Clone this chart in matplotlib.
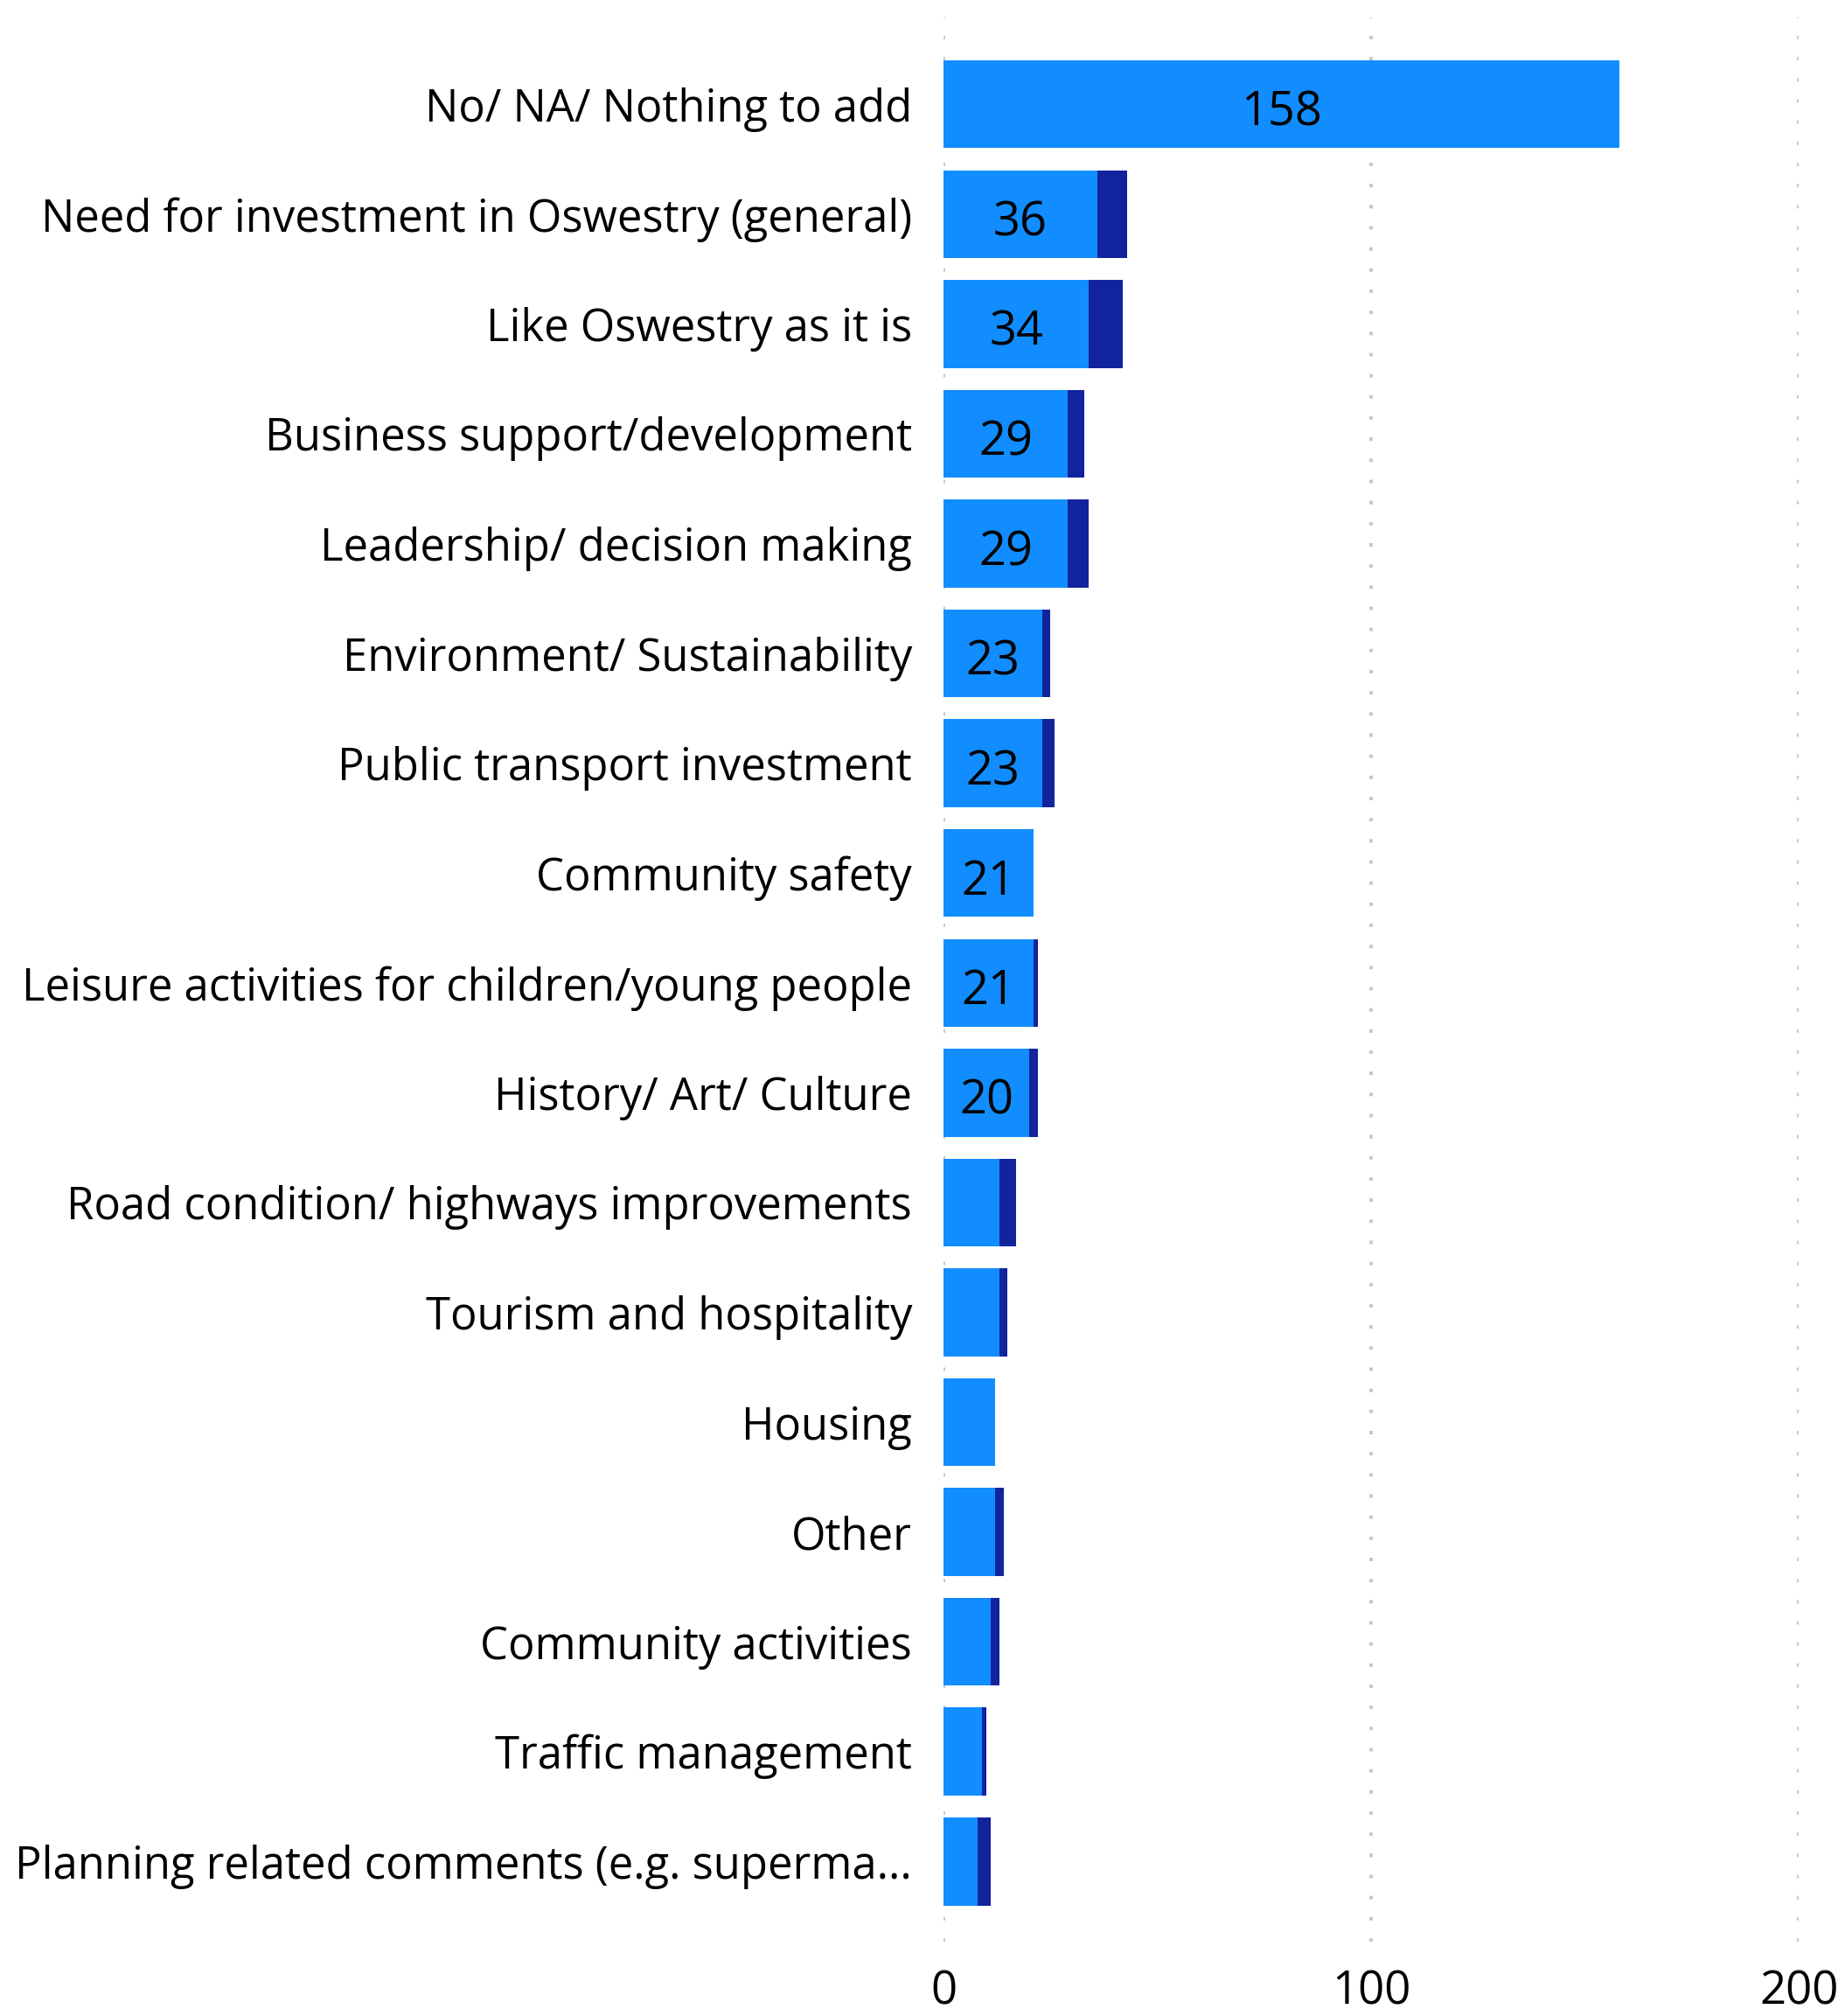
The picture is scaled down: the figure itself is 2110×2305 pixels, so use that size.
import matplotlib.pyplot as plt
import numpy as np

plt.rcParams['font.family'] = ['Open Sans', 'DejaVu Sans']

# 数据
categories = [
    'No/ NA/ Nothing to add',
    'Need for investment in Oswestry (general)',
    'Like Oswestry as it is',
    'Business support/development',
    'Leadership/ decision making',
    'Environment/ Sustainability',
    'Public transport investment',
    'Community safety',
    'Leisure activities for children/young people',
    'History/ Art/ Culture',
    'Road condition/ highways improvements',
    'Tourism and hospitality',
    'Housing',
    'Other',
    'Community activities',
    'Traffic management',
    'Planning related comments (e.g. superma...',
]
series_a = [158, 36, 34, 29, 29, 23, 23, 21, 21, 20, 13, 13, 12, 12, 11, 9, 8]
series_b = [0, 7, 8, 4, 5, 2, 3, 0, 1, 2, 4, 2, 0, 2, 2, 1, 3]
x_ticks = [0, 100, 200]

fig = plt.figure(figsize=(21.1, 23.05), dpi=100)
ax = fig.add_axes([0.5114, 0.0369, 0.4636, 0.9544])

y = np.arange(len(categories))
ax.barh(y, series_a, height=0.8, color='#118DFF', zorder=2)
ax.barh(y, series_b, left=series_a, height=0.8, color='#12239E', zorder=2)

# 数值标签（只显示 >= 20 的）
for yi, v in zip(y, series_a):
    if v >= 20:
        ax.text(v / 2, yi + 0.08, str(v), ha='center', va='center',
                fontsize=39, color='black', zorder=3)

ax.set_yticks(y)
ax.set_yticklabels(categories, fontsize=36.5)
ax.set_ylim(16.73, -0.79)
ax.set_xlim(0, 200)
ax.set_xticks(x_ticks)
ax.set_xticklabels([str(t) for t in x_ticks], fontsize=38)

ax.tick_params(axis='both', length=0)
ax.tick_params(axis='y', pad=26)
ax.tick_params(axis='x', pad=22)
for s in ax.spines.values():
    s.set_visible(False)

ax.grid(axis='x', color='#c8c8c8', linewidth=2.9, linestyle=(0, (1, 5)), zorder=0)
ax.set_axisbelow(True)

fig.savefig('out.png', dpi=100)
